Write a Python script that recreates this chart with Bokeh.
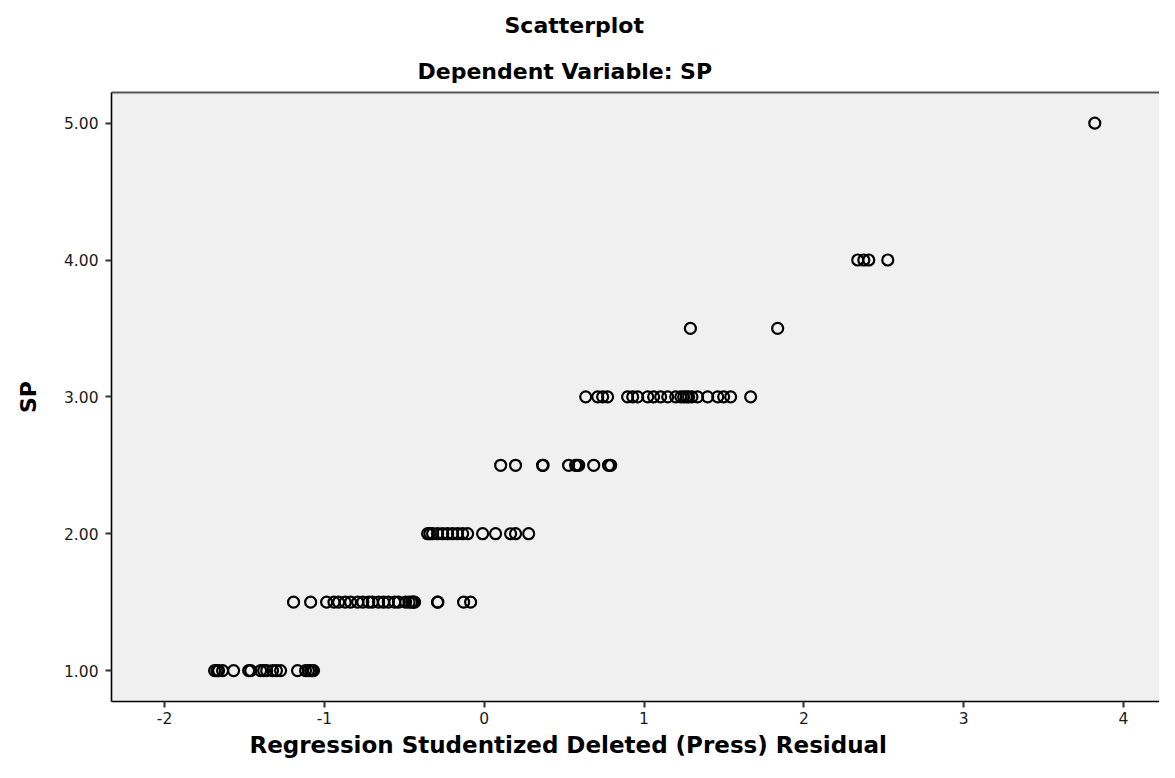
from bokeh.plotting import figure
from bokeh.models import Range1d, LinearAxis, FixedTicker, CustomJSTickFormatter, Title
from bokeh.embed import file_html
from bokeh.resources import INLINE

# --- data: Regression Studentized Deleted (Press) Residual per SP level ---
sp_levels = [1.00, 1.50, 2.00, 2.50, 3.00, 3.50, 4.00, 5.00]
res_sp_100 = [-1.687, -1.672, -1.662, -1.637, -1.568, -1.474, -1.461, -1.399, -1.380,
              -1.361, -1.324, -1.300, -1.274, -1.168, -1.118, -1.100, -1.086, -1.075, -1.068]
res_sp_150 = [-1.193, -1.086, -0.986, -0.940, -0.911, -0.870, -0.836, -0.792, -0.760,
              -0.723, -0.700, -0.661, -0.630, -0.600, -0.560, -0.536, -0.492, -0.470,
              -0.454, -0.444, -0.436, -0.292, -0.290, -0.129, -0.085]
res_sp_200 = [-0.354, -0.340, -0.323, -0.292, -0.260, -0.229, -0.198, -0.167, -0.135,
              -0.104, -0.010, 0.071, 0.165, 0.196, 0.278]
res_sp_250 = [0.103, 0.196, 0.365, 0.368, 0.528, 0.572, 0.580, 0.591, 0.685, 0.778, 0.791]
res_sp_300 = [0.635, 0.710, 0.741, 0.772, 0.897, 0.929, 0.960, 1.023, 1.060, 1.104,
              1.148, 1.198, 1.230, 1.248, 1.265, 1.279, 1.300, 1.335, 1.398, 1.461,
              1.498, 1.542, 1.667]
res_sp_350 = [1.290, 1.836]
res_sp_400 = [2.337, 2.375, 2.406, 2.525]
res_sp_500 = [3.820]
y_ticks = [1, 2, 3, 4, 5]
x_ticks = [-2, -1, 0, 1, 2, 3, 4]

groups = [res_sp_100, res_sp_150, res_sp_200, res_sp_250, res_sp_300,
          res_sp_350, res_sp_400, res_sp_500]
xs, ys = [], []
for lvl, g in zip(sp_levels, groups):
    xs.extend(g)
    ys.extend([lvl] * len(g))

FONT = "DejaVu Sans"

p = figure(width=1159, height=762, output_backend="svg", toolbar_location=None,
           x_range=Range1d(-2.332, 4.225), y_range=Range1d(0.774, 5.224),
           min_border_left=111, min_border_top=91, min_border_bottom=61,
           min_border_right=0, x_axis_type=None, y_axis_type=None)
p.background_fill_color = "#f0f0f0"
p.border_fill_color = "white"
p.outline_line_color = None
p.grid.visible = False

xaxis = LinearAxis(ticker=FixedTicker(ticks=x_ticks),
                   formatter=CustomJSTickFormatter(code="return tick.toString();"))
yaxis = LinearAxis(ticker=FixedTicker(ticks=y_ticks),
                   formatter=CustomJSTickFormatter(code="return tick.toFixed(2);"),
                   axis_label="SP")
for ax in (xaxis, yaxis):
    ax.axis_line_color = "black"
    ax.axis_line_width = 1.6
    ax.major_tick_line_color = "#333333"
    ax.major_tick_line_width = 2
    ax.major_tick_out = 6
    ax.major_tick_in = 0
    ax.minor_tick_line_color = None
    ax.major_label_text_font = FONT
    ax.major_label_text_font_size = "15.5px"
    ax.major_label_text_color = "#1a1a1a"
yaxis.major_label_standoff = 7
xaxis.major_label_standoff = 4
yaxis.axis_label_text_font = FONT
yaxis.axis_label_text_font_size = "22px"
yaxis.axis_label_text_font_style = "bold"
yaxis.axis_label_text_color = "black"
yaxis.axis_label_standoff = 20
p.add_layout(xaxis, "below")
p.add_layout(yaxis, "left")

top = LinearAxis(ticker=FixedTicker(ticks=[]), major_label_text_font_size="0px")
top.axis_line_color = "#555555"
top.axis_line_width = 2
top.major_tick_line_color = None
top.minor_tick_line_color = None
p.add_layout(top, "above")

p.scatter(xs, ys, marker="circle", size=11, fill_color=None,
          line_color="black", line_width=2.2)

def title(text, side, offset, standoff, size="22px"):
    t = Title(text=text, align="left", offset=offset, standoff=standoff,
              text_font=FONT, text_font_size=size, text_font_style="bold",
              text_color="black")
    p.add_layout(t, side)

title("Dependent Variable: SP", "above", 306, 18)
title("Scatterplot", "above", 393, 20)
title("Regression Studentized Deleted (Press) Residual", "below", 138, 6, "23px")

open("out.html", "w").write(file_html(p, INLINE))
